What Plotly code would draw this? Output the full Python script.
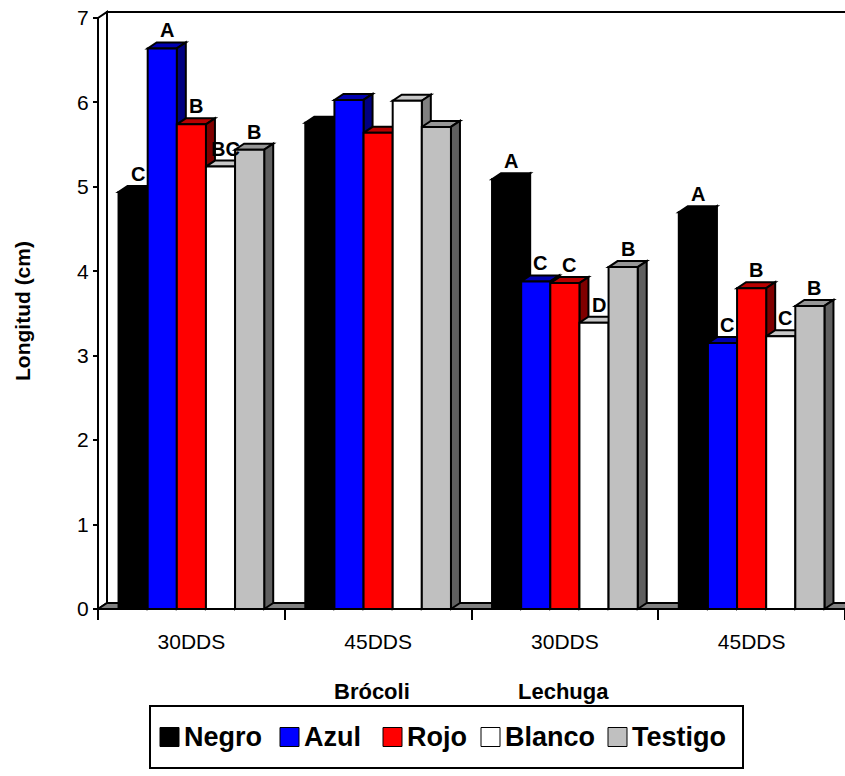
import plotly.graph_objects as go

# ---- data -------------------------------------------------------------
categories = ["30DDS", "45DDS", "30DDS", "45DDS"]
crop_names = ["Brócoli", "Lechuga"]
series_names = ["Negro", "Azul", "Rojo", "Blanco", "Testigo"]

negro = [4.94, 5.76, 5.09, 4.70]
azul = [6.64, 6.03, 3.88, 3.15]
rojo = [5.74, 5.64, 3.86, 3.80]
blanco = [5.24, 6.02, 3.39, 3.23]
testigo = [5.44, 5.71, 4.05, 3.59]

negro_letters = ["C", "", "A", "A"]
azul_letters = ["A", "", "C", "C"]
rojo_letters = ["B", "", "C", "B"]
blanco_letters = ["BC", "", "D", "C"]
testigo_letters = ["B", "", "B", "B"]

y_ticks = [0, 1, 2, 3, 4, 5, 6, 7]
y_max = 7

series_values = [negro, azul, rojo, blanco, testigo]
series_letters = [negro_letters, azul_letters, rojo_letters, blanco_letters, testigo_letters]

# ---- style ------------------------------------------------------------
front_colors = ["#000000", "#0000FF", "#FF0000", "#FFFFFF", "#C0C0C0"]
top_colors = ["#000000", "#0000B0", "#B80000", "#C8C8C8", "#969696"]
side_colors = ["#000000", "#000080", "#800000", "#808080", "#606060"]
floor_color = "#808080"
FONT = "Liberation Sans, Arial, sans-serif"
EDGE = 2

# ---- geometry (pixels) ------------------------------------------------
W, H = 845, 776
L, R, T, B = 88, 845, 4, 614          # plot area
X0PX, CATPX = 98, 186.75              # x of first category edge, px per category
Y0PX, UNITPX = 609, 84.43             # y of zero, px per cm
DEPTH_X, DEPTH_Y = 9, 6               # 3-D depth offset in px

xr = [(L - X0PX) / CATPX, (R - X0PX) / CATPX]
yr = [(Y0PX - B) / UNITPX, (Y0PX - T) / UNITPX]
DX = DEPTH_X / CATPX
DY = DEPTH_Y / UNITPX

GROUP_FRAC = 0.78
n_series = len(series_names)
bar_w = GROUP_FRAC / n_series
centers = [i + 0.5 for i in range(len(categories))]


def pxx(xp):
    return (xp - L) / (R - L)


def pxy(yp):
    return (B - yp) / (B - T)


fig = go.Figure()

# front faces of the columns
for k, name in enumerate(series_names):
    off = -GROUP_FRAC / 2 + k * bar_w
    fig.add_trace(go.Bar(
        x=centers, y=series_values[k], name=name,
        width=bar_w, offset=off,
        marker=dict(color=front_colors[k], line=dict(color="black", width=EDGE)),
        showlegend=False, hoverinfo="x+y+name",
    ))

shapes = []
x_far = xr[1] + 1

# back wall, left wall and floor
shapes.append(dict(type="path", xref="x", yref="y", layer="below",
                   path=f"M{DX},{DY} L{DX},{y_max + DY} L{x_far},{y_max + DY} L{x_far},{DY} Z",
                   fillcolor="white", line=dict(color="black", width=EDGE)))
shapes.append(dict(type="path", xref="x", yref="y", layer="below",
                   path=f"M0,0 L0,{y_max} L{DX},{y_max + DY} L{DX},{DY} Z",
                   fillcolor="white", line=dict(color="black", width=EDGE)))
shapes.append(dict(type="path", xref="x", yref="y", layer="below",
                   path=f"M0,0 L{x_far},0 L{x_far + DX},{DY} L{DX},{DY} Z",
                   fillcolor=floor_color, line=dict(color="black", width=EDGE)))

# top and side faces, left to right so that each column hides its neighbour
annotations = []
for g, c in enumerate(centers):
    for k in range(n_series):
        h = series_values[k][g]
        x0 = c - GROUP_FRAC / 2 + k * bar_w
        x1 = x0 + bar_w
        shapes.append(dict(type="path", xref="x", yref="y", layer="below",
                           path=f"M{x0},{h} L{x1},{h} L{x1 + DX},{h + DY} L{x0 + DX},{h + DY} Z",
                           fillcolor=top_colors[k], line=dict(color="black", width=EDGE)))
        shapes.append(dict(type="path", xref="x", yref="y", layer="below",
                           path=f"M{x1},0 L{x1 + DX},{DY} L{x1 + DX},{h + DY} L{x1},{h} Z",
                           fillcolor=side_colors[k], line=dict(color="black", width=EDGE)))
        letter = series_letters[k][g]
        if letter:
            annotations.append(dict(
                x=(x0 + x1) / 2 + DX / 2, y=h + DY, xref="x", yref="y",
                text=letter, showarrow=False, xanchor="center", yanchor="bottom",
                yshift=-1, font=dict(family=FONT, size=20, color="black", weight="bold"),
            ))

# crop names under the category labels
for name, xp in zip(crop_names, [372, 563]):
    annotations.append(dict(x=pxx(xp), y=pxy(691), xref="paper", yref="paper",
                            text=name, showarrow=False, xanchor="center", yanchor="middle",
                            font=dict(family=FONT, size=22, color="black", weight="bold")))

# y axis title
annotations.append(dict(x=pxx(22), y=pxy(311), xref="paper", yref="paper",
                        text="Longitud (cm)", textangle=-90, showarrow=False,
                        xanchor="center", yanchor="middle",
                        font=dict(family=FONT, size=21, color="black", weight="bold")))

# legend box with swatches
shapes.append(dict(type="rect", xref="paper", yref="paper",
                   x0=pxx(150), x1=pxx(743), y0=pxy(768), y1=pxy(706),
                   fillcolor="white", line=dict(color="black", width=EDGE)))
legend_left = [160, 280, 383, 481, 608]
SW = 19
for k, name in enumerate(series_names):
    xl = legend_left[k]
    shapes.append(dict(type="rect", xref="paper", yref="paper",
                       x0=pxx(xl), x1=pxx(xl + SW), y0=pxy(737 + SW / 2), y1=pxy(737 - SW / 2),
                       fillcolor=front_colors[k], line=dict(color="black", width=1)))
    annotations.append(dict(x=pxx(xl + SW + 3), y=pxy(737), xref="paper", yref="paper",
                            text=name, showarrow=False, xanchor="left", yanchor="middle",
                            font=dict(family=FONT, size=27, color="black", weight="bold")))

fig.update_layout(
    width=W, height=H,
    margin=dict(l=L, r=W - R, t=T, b=H - B, pad=0),
    paper_bgcolor="white", plot_bgcolor="white",
    barmode="overlay",
    shapes=shapes, annotations=annotations,
    font=dict(family=FONT, color="black"),
    xaxis=dict(
        range=xr, anchor="free", position=pxy(Y0PX),
        tickmode="array", tickvals=centers, ticktext=categories,
        ticks="", ticklabelstandoff=18,
        tickfont=dict(family=FONT, size=21, color="black"),
        minor=dict(tickmode="array", tickvals=[0, 1, 2, 3, 4], ticks="outside",
                   ticklen=10, tickwidth=EDGE, tickcolor="black", showgrid=False),
        showgrid=False, zeroline=False, showline=False, fixedrange=True,
    ),
    yaxis=dict(
        range=yr, anchor="free", position=pxx(X0PX),
        tickmode="array", tickvals=y_ticks,
        ticks="outside", ticklen=5, tickwidth=EDGE, tickcolor="black",
        tickfont=dict(family=FONT, size=21, color="black"),
        showgrid=False, zeroline=False, showline=False, fixedrange=True,
    ),
)

fig.write_html("out.html")
